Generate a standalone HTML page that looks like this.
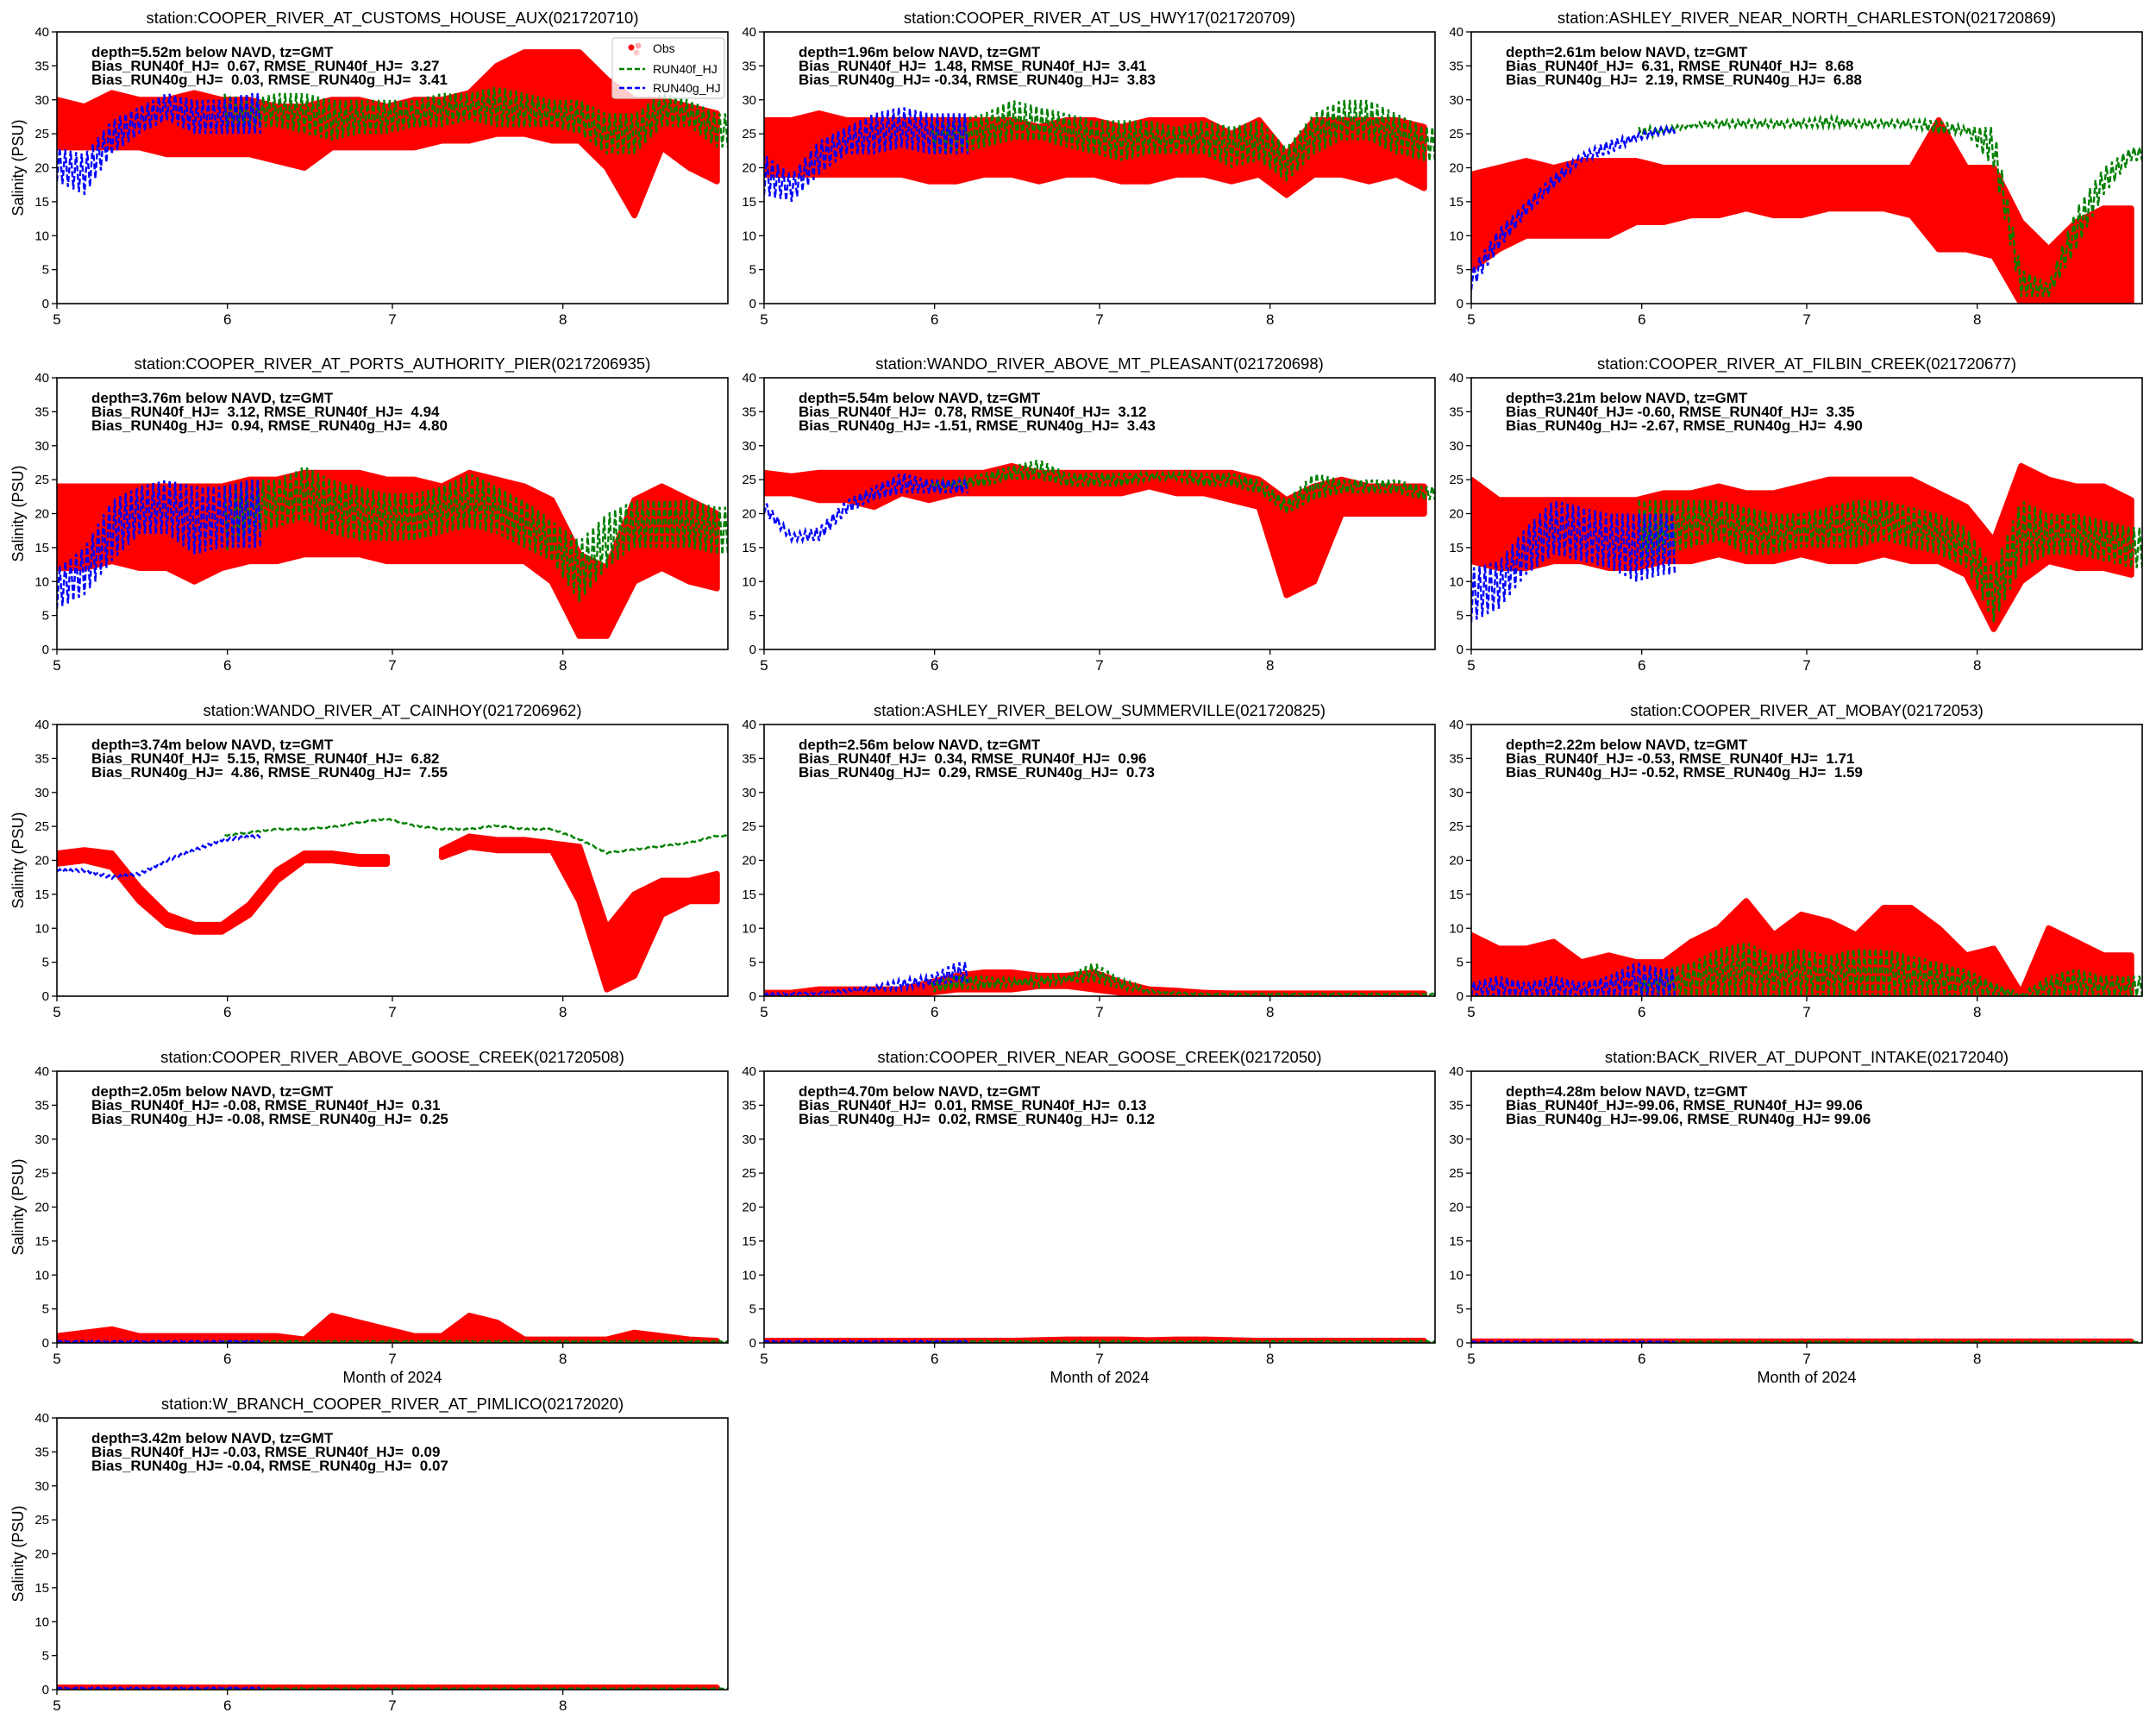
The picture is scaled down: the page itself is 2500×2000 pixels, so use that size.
<!DOCTYPE html>
<html><head><meta charset="utf-8">
<style>
html,body{margin:0;padding:0;background:#fff;}
svg{display:block;font-family:"Liberation Sans",sans-serif;}
</style></head>
<body>
<svg id="fig" width="2500" height="2000" viewBox="0 0 2500 2000" xmlns="http://www.w3.org/2000/svg"></svg>
<script>
// sample days (days since May 1, 2024), step 5
const days = [0,5,10,15,20,25,30,35,40,45,50,55,60,65,70,75,80,85,90,95,100,105,110,115,120];
const monthTicks = [0,31,61,92];
const monthLabels = ["5","6","7","8"];
const yTicks = [0,5,10,15,20,25,30,35,40];
const N = null;

const titles = [
"station:COOPER_RIVER_AT_CUSTOMS_HOUSE_AUX(021720710)",
"station:COOPER_RIVER_AT_US_HWY17(021720709)",
"station:ASHLEY_RIVER_NEAR_NORTH_CHARLESTON(021720869)",
"station:COOPER_RIVER_AT_PORTS_AUTHORITY_PIER(0217206935)",
"station:WANDO_RIVER_ABOVE_MT_PLEASANT(021720698)",
"station:COOPER_RIVER_AT_FILBIN_CREEK(021720677)",
"station:WANDO_RIVER_AT_CAINHOY(0217206962)",
"station:ASHLEY_RIVER_BELOW_SUMMERVILLE(021720825)",
"station:COOPER_RIVER_AT_MOBAY(02172053)",
"station:COOPER_RIVER_ABOVE_GOOSE_CREEK(021720508)",
"station:COOPER_RIVER_NEAR_GOOSE_CREEK(02172050)",
"station:BACK_RIVER_AT_DUPONT_INTAKE(02172040)",
"station:W_BRANCH_COOPER_RIVER_AT_PIMLICO(02172020)"];
const depths = ["5.52","1.96","2.61","3.76","5.54","3.21","3.74","2.56","2.22","2.05","4.70","4.28","3.42"];
const biasF = ["0.67","1.48","6.31","3.12","0.78","-0.60","5.15","0.34","-0.53","-0.08","0.01","-99.06","-0.03"];
const rmseF = ["3.27","3.41","8.68","4.94","3.12","3.35","6.82","0.96","1.71","0.31","0.13","99.06","0.09"];
const biasG = ["0.03","-0.34","2.19","0.94","-1.51","-2.67","4.86","0.29","-0.52","-0.08","0.02","-99.06","-0.04"];
const rmseG = ["3.41","3.83","6.88","4.80","3.43","4.90","7.55","0.73","1.59","0.25","0.12","99.06","0.07"];

// Obs low / high per panel
const obsLo = [
[23,23,23,23,22,22,22,22,21,20,23,23,23,23,24,24,25,25,24,24,20,13,23,20,18],
[19,19,19,19,19,19,18,18,19,19,18,19,19,18,18,19,19,18,19,16,19,19,18,19,17],
[5,8,10,10,10,10,12,12,13,13,14,13,13,14,14,14,13,8,8,7,0,0,0,0,0],
[12,12,13,12,12,10,12,13,13,14,14,14,13,13,13,13,13,13,10,2,2,10,12,10,9],
[23,23,22,22,21,23,22,23,23,23,23,23,23,23,24,23,23,22,21,8,10,20,20,20,20],
[13,12,12,13,13,12,12,13,13,14,13,13,14,13,13,14,13,13,11,3,10,13,12,12,11],
[19.5,20,19,14,10.5,9.5,9.5,12,17,20,20,19.5,19.5,N,20.5,22,21.5,21.5,21.5,14,1,3,12,14,14],
[0,0,0,0,0,0,0.5,1,1,1,1.5,1.5,1,0.5,0.3,0.3,0.2,0,0,0,0,0,0,0,0],
[0,0,0,0,0,0,0,0,0,0,0,0,0,0,0,0,0,0,0,0,0,0,0,0,0],
[0,0,0,0,0,0,0,0,0,0,0,0,0,0,0,0,0,0,0,0,0,0,0,0,0],
[0,0,0,0,0,0,0,0,0,0,0,0,0,0,0,0,0,0,0,0,0,0,0,0,0],
[0,0,0,0,0,0,0,0,0,0,0,0,0,0,0,0,0,0,0,0,0,0,0,0,0],
[0,0,0,0,0,0,0,0,0,0,0,0,0,0,0,0,0,0,0,0,0,0,0,0,0]];
const obsHi = [
[30,29,31,30,30,31,30,30,29,29,30,30,29,30,30,31,35,37,37,37,33,30,30,29,28],
[27,27,28,27,27,27,27,27,27,27,26,27,27,26,27,27,27,25,27,22,27,27,27,27,26],
[19,20,21,20,21,21,21,20,20,20,20,20,20,20,20,20,20,27,20,20,12,8,12,14,14],
[24,24,24,24,24,24,24,25,25,26,26,26,25,25,24,26,25,24,22,14,12,22,24,22,20],
[26,25.5,26,26,26,26,26,26,26,27,26,26,26,26,26,26,26,26,25,22,24,25,24,24,24],
[25,22,22,22,22,22,22,23,23,24,23,23,24,25,25,25,25,23,21,16,27,25,24,24,22],
[21,21.5,21,16,12,10.5,10.5,13.5,18.5,21,21,20.5,20.5,N,21.5,23.5,23,23,22.5,22,10,15,17,17,18],
[0.5,0.5,1,1,1,1,2,3,3.5,3.5,3,3,3.5,2,1,0.8,0.5,0.4,0.4,0.4,0.4,0.4,0.4,0.4,0.4],
[9,7,7,8,5,6,5,5,8,10,14,9,12,11,9,13,13,10,6,7,0.4,10,8,6,6],
[1,1.5,2,1,1,1,1,1,1,0.5,4,3,2,1,1,4,3,0.5,0.5,0.5,0.5,1.5,1,0.5,0.3],
[0.3,0.3,0.3,0.3,0.3,0.3,0.3,0.3,0.3,0.3,0.4,0.5,0.5,0.5,0.4,0.5,0.5,0.4,0.3,0.3,0.3,0.3,0.3,0.3,0.3],
[0.2,0.2,0.2,0.2,0.2,0.2,0.2,0.2,0.2,0.2,0.2,0.2,0.2,0.2,0.2,0.2,0.2,0.2,0.2,0.2,0.2,0.2,0.2,0.2,0.2],
[0.3,0.3,0.3,0.3,0.3,0.3,0.3,0.3,0.3,0.3,0.3,0.3,0.3,0.3,0.3,0.3,0.3,0.3,0.3,0.3,0.3,0.3,0.3,0.3,0.3]];

// RUN40f_HJ (green) low / high
const fLo = [
[N,N,N,N,N,N,25,26,26,25,24,25,25,26,26,27,26,26,26,25,22,22,26,26,23],
[N,N,N,N,N,N,22,22,23,24,24,23,22,21,22,22,22,20,21,18,22,24,24,22,21],
[N,N,N,N,N,N,24,25,26,26,26,26,26,26,26,26,26,25,25,20,1,1,8,16,21],
[N,N,N,N,N,N,14,17,18,19,17,16,16,16,17,18,17,15,13,7,12,15,15,15,14],
[N,N,N,N,N,N,23,24,24,25,25,24,24,24,25,25,24,24,23,20,22,23,23,23,22],
[N,N,N,N,N,N,13,14,15,16,14,14,15,15,15,16,15,14,12,4,12,14,14,13,12],
[N,N,N,N,N,N,23.5,24,24.5,24.5,24.8,25.5,26,25,24.5,24.5,25,24.5,24.5,23,21,21.5,22,22.5,23.5],
[N,N,N,N,N,N,0.5,1,1,1.5,1.5,2,2,1,0.5,0.3,0.2,0.2,0.2,0.2,0.2,0.2,0.2,0.2,0.2],
[N,N,N,N,N,N,0,0,0,0,0,0,0,0,0,0,0,0,0,0,0,0,0,0,0],
[N,N,N,N,N,N,0.1,0.1,0.1,0.1,0.1,0.1,0.1,0.1,0.1,0.1,0.1,0.1,0.1,0.1,0.1,0.1,0.1,0.1,0.1],
[N,N,N,N,N,N,0.1,0.1,0.1,0.1,0.1,0.1,0.1,0.1,0.1,0.1,0.1,0.1,0.1,0.1,0.1,0.1,0.1,0.1,0.1],
[N,N,N,N,N,N,0.1,0.1,0.1,0.1,0.1,0.1,0.1,0.1,0.1,0.1,0.1,0.1,0.1,0.1,0.1,0.1,0.1,0.1,0.1],
[N,N,N,N,N,N,0.1,0.1,0.1,0.1,0.1,0.1,0.1,0.1,0.1,0.1,0.1,0.1,0.1,0.1,0.1,0.1,0.1,0.1,0.1]];
const fHi = [
[N,N,N,N,N,N,31,30,31,31,30,30,30,30,31,31,32,31,30,30,28,28,31,30,28],
[N,N,N,N,N,N,27,27,28,30,29,28,27,27,27,26,27,26,27,23,28,30,30,28,26],
[N,N,N,N,N,N,26,26,26.5,27,27,27,27,27.5,27,27,27,27,26,26,5,3,14,20,23],
[N,N,N,N,N,N,24,25,25,27,25,24,23,23,24,26,24,22,19,16,20,22,22,22,21],
[N,N,N,N,N,N,25,25,26,27,28,26,26,26,26,26,26,26,25,22,26,25,25,25,24],
[N,N,N,N,N,N,22,22,22,22,21,20,20,21,22,22,21,20,18,12,22,20,20,19,18],
[N,N,N,N,N,N,23.7,24.2,24.7,24.7,25,25.7,26.2,25.2,24.7,24.7,25.2,24.7,24.7,23.2,21.2,21.7,22.2,22.7,23.7],
[N,N,N,N,N,N,2,3,3,2.5,3,3,5,2.5,1,0.6,0.4,0.4,0.4,0.4,0.4,0.4,0.4,0.4,0.4],
[N,N,N,N,N,N,2,4,5,7,8,6,7,6,7,7,6,5,4,2,0.3,3,4,3,3],
[N,N,N,N,N,N,0.3,0.3,0.3,0.3,0.3,0.3,0.3,0.3,0.3,0.3,0.3,0.3,0.3,0.3,0.3,0.3,0.3,0.3,0.3],
[N,N,N,N,N,N,0.3,0.3,0.3,0.3,0.3,0.3,0.3,0.3,0.3,0.3,0.3,0.3,0.3,0.3,0.3,0.3,0.3,0.3,0.3],
[N,N,N,N,N,N,0.2,0.2,0.2,0.2,0.2,0.2,0.2,0.2,0.2,0.2,0.2,0.2,0.2,0.2,0.2,0.2,0.2,0.2,0.2],
[N,N,N,N,N,N,0.2,0.2,0.2,0.2,0.2,0.2,0.2,0.2,0.2,0.2,0.2,0.2,0.2,0.2,0.2,0.2,0.2,0.2,0.2]];

// RUN40g_HJ (blue) low / high, days 0..35
const gDays = [0,5,10,15,20,25,30,35];
const gLo = [
[18,16,22,25,27,25,25,25],
[16,15,19,22,22,23,22,22],
[2,8,13,17,21,22,24,25],
[6,8,13,17,17,14,15,15],
[20,16,16,20,22,23,23,23],
[4,6,11,14,13,12,10,11],
[18.3,18.3,17.3,17.8,19.8,21.3,22.8,23.3],
[0,0.2,0.3,0.5,0.8,1,1.5,2],
[0,0,0,0,0,0,0,0],
[0.1,0.1,0.1,0.1,0.1,0.1,0.1,0.1],
[0.1,0.1,0.1,0.1,0.1,0.1,0.1,0.1],
[0.1,0.1,0.1,0.1,0.1,0.1,0.1,0.1],
[0.1,0.1,0.1,0.1,0.1,0.1,0.1,0.1]];
const gHi = [
[23,22,27,29,31,30,30,31],
[22,19,24,26,28,29,28,28],
[5,11,15,19,22,24,25,26],
[12,15,22,24,25,24,24,25],
[22,17,18,22,24,26,25,25],
[12,13,18,22,21,20,20,20],
[18.7,18.7,17.7,18.2,20.2,21.7,23.2,23.7],
[0.4,0.5,0.6,1,1.5,2.5,3,5],
[2,3,2,3,2,3,5,4],
[0.3,0.3,0.3,0.3,0.3,0.3,0.3,0.3],
[0.3,0.3,0.3,0.3,0.3,0.3,0.3,0.3],
[0.2,0.2,0.2,0.2,0.2,0.2,0.2,0.2],
[0.3,0.3,0.3,0.3,0.3,0.3,0.3,0.3]];
const gEnd = 37;

const NS = "http://www.w3.org/2000/svg";
const svg = document.getElementById("fig");
const colX = [66, 886, 1706], rowY = [37, 438, 840, 1242, 1644];
const AW = 778, AH = 315, XMAX = 122, YMAX = 40;

function mk(tag, attrs, parent){ const e=document.createElementNS(NS,tag); for(const k in attrs) e.setAttribute(k,attrs[k]); parent.appendChild(e); return e; }
function interp(xs, ys, d){
  for(let i=0;i<xs.length-1;i++){
    if(d>=xs[i] && d<=xs[i+1]){
      const a=ys[i], b=ys[i+1];
      if(a===null||b===null) return null;
      return a+(b-a)*(d-xs[i])/(xs[i+1]-xs[i]);
    }
  }
  if(d>xs[xs.length-1]) return ys[ys.length-1];
  return null;
}
const f6 = s => s.padStart(6," ");

for(let p=0;p<13;p++){
  const ox = colX[p%3], oy = rowY[Math.floor(p/3)];
  const sx = d => ox + d/XMAX*AW;
  const sy = v => oy + AH - v/YMAX*AH;
  const g = mk("g",{},svg);
  
  
  const clipId="c"+p;
  const cp = mk("clipPath",{id:clipId},g); mk("rect",{x:ox,y:oy,width:AW,height:AH},cp);
  const plot = mk("g",{"clip-path":"url(#"+clipId+")"},g);

  // obs band
  let seg=[];
  const segs=[];
  for(let i=0;i<days.length;i++){
    if(obsLo[p][i]===null){ if(seg.length) segs.push(seg); seg=[]; continue; }
    seg.push(i);
  }
  if(seg.length) segs.push(seg);
  segs.forEach(s=>{
    let pts=[];
    s.forEach(i=>pts.push(sx(days[i])+","+sy(obsHi[p][i])));
    for(let k=s.length-1;k>=0;k--){ const i=s[k]; pts.push(sx(days[i])+","+sy(obsLo[p][i])); }
    const poly = mk("polygon",{points:pts.join(" "),fill:"#ff0000",stroke:"#ff0000","stroke-width":7,"stroke-linejoin":"round"},plot);
    
    
  });

  // model zigzags
  function zig(xs, lo, hi, end, color, name){
    let d="", pen=false, k=0;
    for(let t=xs[0]; t<=end; t+=0.5, k++){
      const a=interp(xs,lo,t), b=interp(xs,hi,t);
      if(a===null||b===null){ pen=false; continue; }
      const v = (k%2===0)? a : b;
      d += (pen?"L":"M")+sx(t).toFixed(1)+","+sy(v).toFixed(1)+" ";
      pen=true;
    }
    const path = mk("path",{d:d,fill:"none",stroke:color,"stroke-width":2.4,"stroke-dasharray":"7,3"},plot);
    
    
  }
  zig(days, fLo[p], fHi[p], XMAX, "#008000", "run40f-line");
  zig(gDays, gLo[p], gHi[p], gEnd, "#0000ff", "run40g-line");

  // frame
  const fr = mk("rect",{x:ox,y:oy,width:AW,height:AH,fill:"none",stroke:"#000","stroke-width":1.6},g);
  
  

  // y ticks
  yTicks.forEach(v=>{
    mk("line",{x1:ox-6,x2:ox,y1:sy(v),y2:sy(v),stroke:"#000","stroke-width":1.3},g);
    const t = mk("text",{x:ox-9,y:sy(v)+5,"text-anchor":"end","font-size":15},g);
    t.textContent=v;
    
    
  });
  // x ticks
  monthTicks.forEach((d,i)=>{
    mk("line",{x1:sx(d),x2:sx(d),y1:oy+AH,y2:oy+AH+6,stroke:"#000","stroke-width":1.3},g);
    const t = mk("text",{x:sx(d),y:oy+AH+24,"text-anchor":"middle","font-size":17},g);
    t.textContent=monthLabels[i];
    
    
  });
  // title
  const tt = mk("text",{x:ox+AW/2,y:oy-10,"text-anchor":"middle","font-size":18.5},g);
  tt.textContent = titles[p];
  
  
  // stats text
  const lines = ["depth="+depths[p]+"m below NAVD, tz=GMT",
    "Bias_RUN40f_HJ="+f6(biasF[p])+", RMSE_RUN40f_HJ="+f6(rmseF[p]),
    "Bias_RUN40g_HJ="+f6(biasG[p])+", RMSE_RUN40g_HJ="+f6(rmseG[p])];
  lines.forEach((s,i)=>{
    const t = mk("text",{x:ox+40,y:oy+29+i*16,"font-size":17,"font-weight":"bold"},g);
    t.setAttribute("style","white-space:pre");
    t.textContent=s;
    
    
  });
  // y label
  if(p%3===0){
    const yl = mk("text",{x:0,y:0,"font-size":18,"text-anchor":"middle",transform:"translate(27,"+(oy+AH/2)+") rotate(-90)"},g);
    yl.textContent="Salinity (PSU)";
    
    
  }
  if(p>=9 && p<=11){
    const xl = mk("text",{x:ox+AW/2,y:oy+AH+46,"font-size":18,"text-anchor":"middle"},g);
    xl.textContent="Month of 2024";
    
    
  }
}

// legend in first panel
const lg = mk("g",{},svg);


mk("rect",{x:710,y:44,width:130,height:70,fill:"#fff","fill-opacity":0.8,stroke:"#ccc","stroke-width":1.2,rx:3},lg);
const e1 = mk("g",{},lg);


mk("circle",{cx:732,cy:55,r:3.5,fill:"#ff0000"},e1);
mk("circle",{cx:740,cy:53,r:3.5,fill:"#ffaaaa"},e1);
mk("circle",{cx:738,cy:61,r:3.5,fill:"#ffcccc"},e1);
const t1=mk("text",{x:757,y:61,"font-size":14},e1); t1.textContent="Obs";
const e2 = mk("g",{},lg);


mk("line",{x1:718,x2:748,y1:80,y2:80,stroke:"#008000","stroke-width":2.4,"stroke-dasharray":"6,3"},e2);
const t2=mk("text",{x:757,y:85,"font-size":14},e2); t2.textContent="RUN40f_HJ";
const e3 = mk("g",{},lg);


mk("line",{x1:718,x2:748,y1:102,y2:102,stroke:"#0000ff","stroke-width":2.4,"stroke-dasharray":"6,3"},e3);
const t3=mk("text",{x:757,y:107,"font-size":14},e3); t3.textContent="RUN40g_HJ";
</script>
</body></html>
